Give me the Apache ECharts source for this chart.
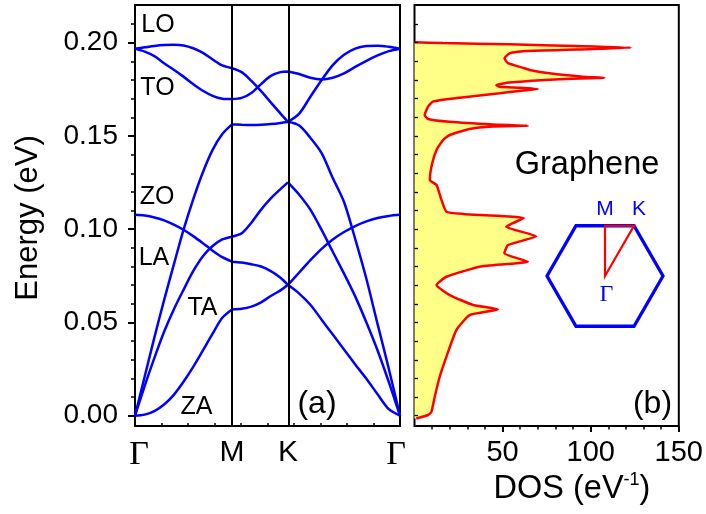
<!DOCTYPE html>
<html>
<head>
<meta charset="utf-8">
<title>Graphene phonon dispersion and DOS</title>
<script src="https://cdn.jsdelivr.net/npm/echarts@6/dist/echarts.min.js"></script>
<style>
  html, body { margin: 0; padding: 0; background: #fff; }
  #chart { width: 706px; height: 514px; }
</style>
</head>
<body>
<div id="chart"></div>
<script>
// Path coordinate along Γ–M–K–Γ (|ΓM| = 1, |MK| = 1/√3, |KΓ| = 2/√3)
const kPath = [0, 0.1, 0.2, 0.3, 0.4, 0.5, 0.6, 0.7, 0.8, 0.9, 1.0,
  1.1, 1.2, 1.3, 1.4, 1.5, 1.577,
  1.693, 1.808, 1.924, 2.039, 2.155, 2.270, 2.386, 2.501, 2.617, 2.732];

// Phonon branches (eV) sampled on kPath
const zaEnergy = [0, 0.0006, 0.0025, 0.0060, 0.0112, 0.0182, 0.0262, 0.0350, 0.0440, 0.0525, 0.0570,
  0.0573, 0.0585, 0.0608, 0.0642, 0.0672, 0.0702,
  0.0655, 0.0595, 0.0515, 0.0435, 0.0355, 0.0275, 0.0198, 0.0115, 0.0035, 0];
const taEnergy = [0, 0.0160, 0.0310, 0.0450, 0.0570, 0.0675, 0.0775, 0.0855, 0.0910, 0.0945, 0.0960,
  0.0978, 0.1035, 0.1105, 0.1165, 0.1215, 0.1251,
  0.1185, 0.1105, 0.0996, 0.0879, 0.0762, 0.0640, 0.0500, 0.0350, 0.0180, 0];
const laEnergy = [0, 0.0210, 0.0420, 0.0620, 0.0810, 0.0996, 0.1160, 0.1305, 0.1425, 0.1510, 0.1562,
  0.1560, 0.1559, 0.1560, 0.1564, 0.1570, 0.1576,
  0.1556, 0.1490, 0.1408, 0.1274, 0.1146, 0.0948, 0.0733, 0.0491, 0.0251, 0];
const zoEnergy = [0.1077, 0.1073, 0.1063, 0.1047, 0.1025, 0.0997, 0.0963, 0.0925, 0.0885, 0.0850, 0.0826,
  0.0821, 0.0812, 0.0800, 0.0775, 0.0740, 0.0702,
  0.0768, 0.0834, 0.0895, 0.0945, 0.0985, 0.1017, 0.1042, 0.1060, 0.1071, 0.1077];
const toEnergy = [0.1968, 0.1952, 0.1928, 0.1890, 0.1855, 0.1818, 0.1778, 0.1742, 0.1715, 0.1700, 0.1698,
  0.1704, 0.1730, 0.1778, 0.1822, 0.1842, 0.1846,
  0.1832, 0.1812, 0.1803, 0.1812, 0.1835, 0.1870, 0.1903, 0.1932, 0.1955, 0.1968];
const loEnergy = [0.1968, 0.1975, 0.1982, 0.1987, 0.1989, 0.1985, 0.1970, 0.1945, 0.1910, 0.1878, 0.1863,
  0.1842, 0.1795, 0.1740, 0.1680, 0.1620, 0.1576,
  0.1620, 0.1710, 0.1800, 0.1880, 0.1935, 0.1968, 0.1982, 0.1984, 0.1978, 0.1968];

// High-symmetry points
const symPoints = [0, 1, 1.577, 2.732];
const symLabels = ['Γ', 'M', 'K', 'Γ'];
const segmentEnds = [0, 10, 16, 26]; // indices of Γ, M, K, Γ in kPath

// Phonon density of states: energy (eV) and DOS (1/eV)
const dosEnergy = [-0.0015, 0.0004, 0.0021, 0.0102, 0.0209, 0.0316, 0.0460, 0.0540, 0.0570, 0.0594,
  0.0647, 0.0701, 0.0745, 0.0799, 0.0826, 0.0871, 0.0915, 0.0962, 0.1013, 0.1060,
  0.1082, 0.1094, 0.1157, 0.1237, 0.1264, 0.1335, 0.1425, 0.1478, 0.1505, 0.1537,
  0.1550, 0.1555, 0.1562, 0.1576, 0.1591, 0.1612, 0.1657, 0.1684, 0.1705, 0.1729,
  0.1741, 0.1752, 0.1759, 0.1764, 0.1773, 0.1786, 0.1804, 0.1812, 0.1818, 0.1836,
  0.1854, 0.1863, 0.1890, 0.1916, 0.1943, 0.1956, 0.1963, 0.1973, 0.1982, 0.1991,
  0.1998, 0.2002];
const dosDensity = [1.0, 7.7, 9.6, 11.5, 14.3, 18.1, 23.8, 31.3, 47.3, 33.2,
  20.0, 12.5, 18.1, 37.0, 64.3, 51.0, 53.0, 69.0, 52.0, 62.0,
  27.5, 18.1, 15.3, 12.5, 8.7, 9.6, 12.5, 16.2, 20.0, 31.3,
  44.5, 64.3, 44.5, 20.0, 7.7, 5.8, 7.7, 10.5, 25.7, 48.3,
  59.6, 70.0, 59.6, 48.3, 46.4, 54.0, 82.3, 107.8, 95.5, 76.6,
  65.3, 62.5, 53.0, 51.1, 54.0, 63.4, 91.7, 122.9, 91.7, 54.0,
  16.2, 0.2];

// Axis ticks
const energyTicks = [0, 0.05, 0.10, 0.15, 0.20];
const energyMinorTicks = [0.01, 0.02, 0.03, 0.04, 0.06, 0.07, 0.08, 0.09, 0.11, 0.12,
  0.13, 0.14, 0.16, 0.17, 0.18, 0.19, 0.21];
const dosTicks = [50, 100, 150];
const dosMinorTicks = [10, 20, 30, 40, 60, 70, 80, 90, 110, 120, 130, 140];
const pathMinorTicks = [0.273, 0.546, 0.820, 1.093, 1.366, 1.639, 1.912, 2.186, 2.459];

const branches = [
  { name: 'ZA', values: zaEnergy },
  { name: 'TA', values: taEnergy },
  { name: 'LA', values: laEnergy },
  { name: 'ZO', values: zoEnergy },
  { name: 'TO', values: toEnergy },
  { name: 'LO', values: loEnergy }
];

// Each branch is drawn as three smooth pieces (Γ–M, M–K, K–Γ) separated by gaps
function branchData(values) {
  const out = [];
  for (let s = 0; s < 3; s++) {
    for (let i = segmentEnds[s]; i <= segmentEnds[s + 1]; i++) out.push([kPath[i], values[i]]);
    if (s < 2) out.push([kPath[segmentEnds[s + 1]], '-']);
  }
  return out;
}

const SANS = '"Liberation Sans", Arial, Helvetica, sans-serif';
const SERIF = '"Liberation Serif", "Times New Roman", serif';
const BLUE = '#0000ff';
const RED = '#ff0000';
const E_MIN = -0.0055, E_MAX = 0.2202;

const chart = echarts.init(document.getElementById('chart'), null, { renderer: 'canvas' });

function valueAxisBase(extra) {
  return Object.assign({
    type: 'value',
    splitLine: { show: false },
    axisLine: { show: false, onZero: false }
  }, extra);
}

const series = branches.map(b => ({
  name: b.name,
  type: 'line',
  xAxisIndex: 0,
  yAxisIndex: 0,
  data: branchData(b.values),
  showSymbol: false,
  symbol: 'none',
  smooth: 0.3,
  connectNulls: false,
  lineStyle: { color: BLUE, width: 2.5 },
  silent: true,
  z: 3
}));

// vertical guide lines at M and K
series[0].markLine = {
  silent: true,
  symbol: ['none', 'none'],
  label: { show: false },
  lineStyle: { color: '#000', width: 2, type: 'solid' },
  data: [{ xAxis: symPoints[1] }, { xAxis: symPoints[2] }],
  animation: false
};

// DOS filled area (towards DOS = 0)
series.push({
  type: 'custom',
  xAxisIndex: 2,
  yAxisIndex: 2,
  data: [[0, 0]],
  silent: true,
  z: 1,
  renderItem: function (params, api) {
    const pts = dosDensity.map((d, i) => api.coord([d, dosEnergy[i]]));
    pts.push(api.coord([0, dosEnergy[dosEnergy.length - 1]]));
    pts.push(api.coord([0, dosEnergy[0]]));
    return { type: 'polygon', shape: { points: pts }, style: { fill: '#ffff88', stroke: null } };
  }
});

// DOS curve
series.push({
  type: 'line',
  xAxisIndex: 2,
  yAxisIndex: 2,
  data: dosDensity.map((d, i) => [d, dosEnergy[i]]),
  symbol: 'none',
  showSymbol: false,
  smooth: 0.15,
  lineStyle: { color: RED, width: 2.5 },
  silent: true,
  z: 3
});

function label(text, x, y, size, color, family) {
  return {
    type: 'text', x: x, y: y, z: 100, silent: true,
    style: {
      text: text, fill: color || '#000', font: size + 'px ' + (family || SANS),
      align: 'center', verticalAlign: 'middle'
    }
  };
}

// Brillouin-zone inset
const hexCenter = [605, 276];
const hexRadius = 58;
const hexPoints = [];
for (let i = 0; i < 6; i++) {
  const a = i * Math.PI / 3;
  hexPoints.push([hexCenter[0] + hexRadius * Math.cos(a), hexCenter[1] + hexRadius * Math.sin(a)]);
}
const hexHalfHeight = hexRadius * Math.sqrt(3) / 2;
const ptGamma = [hexCenter[0], hexCenter[1]];
const ptM = [hexCenter[0], hexCenter[1] - hexHalfHeight];
const ptK = [hexCenter[0] + hexRadius / 2, hexCenter[1] - hexHalfHeight];

const graphics = [
  label('LO', 158, 25, 25),
  label('TO', 157.5, 88.5, 25),
  label('ZO', 157, 197.5, 25),
  label('LA', 154, 258.5, 25),
  label('TA', 202.5, 308.5, 25),
  label('ZA', 196.5, 407.5, 25),
  label('(a)', 317, 404, 32),
  label('(b)', 652.5, 404, 32),
  label('Graphene', 587, 165.5, 32.5),
  {
    type: 'text', x: 28, y: 218, rotation: Math.PI / 2, z: 100, silent: true,
    style: { text: 'Energy (eV)', fill: '#000', font: '31px ' + SANS, align: 'center', verticalAlign: 'middle' }
  },
  {
    type: 'text', x: 572, y: 489, z: 100, silent: true,
    style: {
      text: '{n|DOS (eV}{s|-1}{n|)}', align: 'center', verticalAlign: 'middle',
      rich: {
        n: { font: '32.5px ' + SANS, fill: '#000', lineHeight: 36 },
        s: { font: '18px ' + SANS, fill: '#000', verticalAlign: 'top', lineHeight: 20 }
      }
    }
  },
  {
    type: 'polygon', z: 100, silent: true,
    shape: { points: hexPoints },
    style: { fill: null, stroke: BLUE, lineWidth: 3.3, lineJoin: 'miter' }
  },
  {
    type: 'polygon', z: 101, silent: true,
    shape: { points: [ptGamma, ptM, ptK] },
    style: { fill: null, stroke: RED, lineWidth: 2.2 }
  },
  label('M', 605, 209, 21, BLUE),
  label('K', 639, 209, 21, BLUE),
  label('Γ', 606.5, 295, 24, BLUE, SERIF)
];

const option = {
  animation: false,
  backgroundColor: '#fff',
  grid: [
    { left: 135, top: 5, width: 265, height: 421, show: true, borderColor: '#000', borderWidth: 2, backgroundColor: 'transparent', containLabel: false },
    { left: 414.5, top: 5, width: 265.5, height: 421, show: true, borderColor: '#000', borderWidth: 2, backgroundColor: 'transparent', containLabel: false }
  ],
  xAxis: [
    valueAxisBase({
      gridIndex: 0, position: 'bottom', min: 0, max: 2.732,
      axisTick: { show: false },
      axisLabel: {
        customValues: symPoints, margin: 12, color: '#000',
        formatter: function (v) {
          const idx = symPoints.findIndex(p => Math.abs(p - v) < 1e-6);
          const t = symLabels[idx];
          if (t !== 'Γ') return '{s|' + t + '}';
          return idx === 0 ? '{gl|' + t + '}' : '{gr|' + t + '}';
        },
        rich: {
          gl: { fontFamily: SERIF, fontSize: 34, color: '#000', padding: [0, 0, 0, 8] },
          gr: { fontFamily: SERIF, fontSize: 34, color: '#000', padding: [0, 8, 0, 0] },
          s: { fontFamily: SANS, fontSize: 30, color: '#000' }
        }
      }
    }),
    valueAxisBase({
      gridIndex: 0, position: 'bottom', min: 0, max: 2.732, z: 5,
      axisTick: { show: true, inside: true, length: 3, customValues: pathMinorTicks, lineStyle: { color: '#000', width: 1.5 } },
      axisLabel: { show: false }
    }),
    valueAxisBase({
      gridIndex: 1, position: 'bottom', min: 0, max: 150,
      axisTick: { show: true, inside: false, length: 6, customValues: dosTicks, lineStyle: { color: '#000', width: 2 } },
      axisLabel: { customValues: dosTicks, margin: 12, color: '#000', fontFamily: SANS, fontSize: 29 }
    }),
    valueAxisBase({
      gridIndex: 1, position: 'bottom', min: 0, max: 150,
      axisTick: { show: true, inside: false, length: 3.5, customValues: dosMinorTicks, lineStyle: { color: '#000', width: 1.5 } },
      axisLabel: { show: false }
    })
  ],
  yAxis: [
    valueAxisBase({
      gridIndex: 0, position: 'left', min: E_MIN, max: E_MAX,
      axisTick: { show: true, inside: false, length: 7, customValues: energyTicks, lineStyle: { color: '#000', width: 2 } },
      axisLabel: {
        customValues: energyTicks, margin: 17, color: '#000', fontFamily: SANS, fontSize: 28,
        formatter: v => v.toFixed(2)
      }
    }),
    valueAxisBase({
      gridIndex: 0, position: 'left', min: E_MIN, max: E_MAX,
      axisTick: { show: true, inside: false, length: 4, customValues: energyMinorTicks, lineStyle: { color: '#000', width: 1.5 } },
      axisLabel: { show: false }
    }),
    valueAxisBase({
      gridIndex: 1, position: 'left', min: E_MIN, max: E_MAX, z: 5,
      axisTick: { show: true, inside: true, length: 3.5, customValues: energyTicks.concat(energyMinorTicks), lineStyle: { color: '#000', width: 1.3 } },
      axisLabel: { show: false }
    })
  ],
  series: series,
  graphic: graphics
};

chart.setOption(option);
</script>
</body>
</html>
